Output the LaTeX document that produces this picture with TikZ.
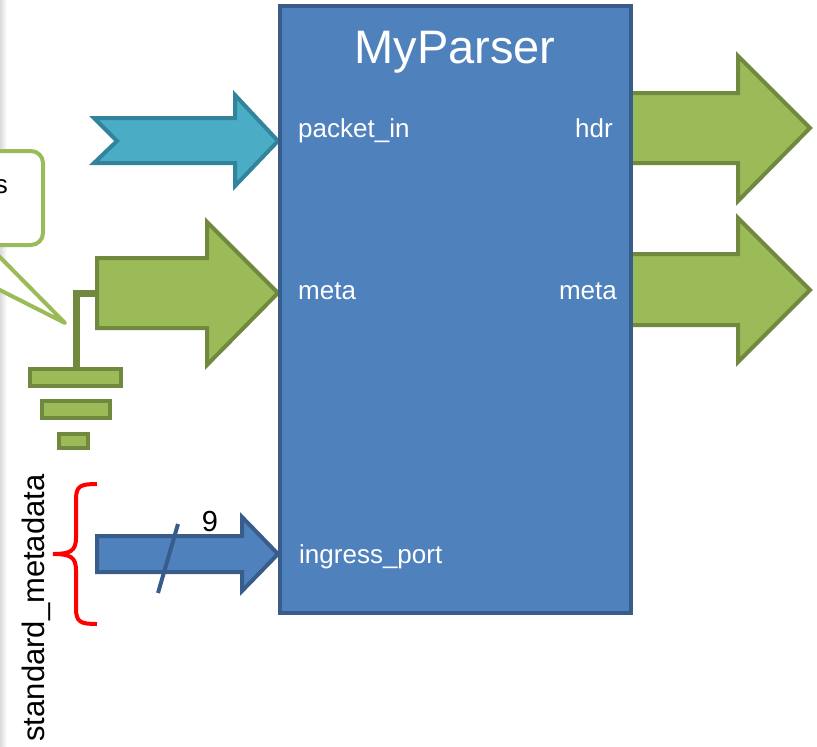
\documentclass[tikz,border=0pt]{standalone}
\usepackage{fontspec}
\setmainfont{Liberation Sans}
\usepackage{tikz}
\usepackage{xcolor}
\definecolor{blockcolor}{HTML}{4F81BD}
\definecolor{blockline}{HTML}{385D8A}
\definecolor{packetcolor}{HTML}{4BACC6}
\definecolor{packetline}{HTML}{31849B}
\definecolor{metacolor}{HTML}{9BBB59}
\definecolor{metaline}{HTML}{71893F}
\usetikzlibrary{
  shapes.misc,
}

\begin{document}
\begin{tikzpicture}[x=1pt, y=-1pt]
	\tikzstyle{every node}=[font=\fontsize{26}{30}\selectfont, inner sep=0pt]
	\tikzstyle{port}=[text=white]
	\tikzstyle{packetarrow}=[fill=packetcolor, draw=packetline, line width=4pt]
	\tikzstyle{metaarrow}=[fill=metacolor, draw=metaline, line width=4pt]
	\tikzstyle{portarrow}=[fill=blockcolor, draw=blockline, line width=4pt]
	\useasboundingbox (0,0) rectangle (817,747);
	\clip (0,0) rectangle (817,747);
	% page edge
	\shade [left color=black!14, right color=white] (0,0) rectangle (7,747);
	% callout
	\draw [metacolor, line width=4pt, line join=round, fill=white] (-200,151) [rounded corners=12pt] -- (43,151) -- (43,245) -- (-12,245) [sharp corners] -- (65,323) -- (-89,245) -- (-200,245);
	\node (note) [anchor=base east] at (8,193) {s};
	% ground
	\draw [metaline, line width=7pt] (97,293) -- (76,293) -- (76,370);
	\draw [metaarrow] (30,369) rectangle (121,386);
	\draw [metaarrow] (42,401) rectangle (110,418);
	\draw [metaarrow] (59,434) rectangle (88,448);
	% input arrows
	\draw [packetarrow] (94,118) -- (235,118) -- (235,95) -- (278,141) -- (235,186) -- (235,163) -- (94,163) -- (117,141) -- cycle;
	\draw [metaarrow] (97,258) -- (207,258) -- (207,222) -- (278,293) -- (207,365) -- (207,328) -- (97,328) -- cycle;
	\draw [portarrow] (97,536) -- (242,536) -- (242,517) -- (278,554) -- (242,591) -- (242,572) -- (97,572) -- cycle;
	% output arrows
	\draw [metaarrow] (630,93) -- (738,93) -- (738,56) -- (810,128) -- (738,201) -- (738,163) -- (630,163);
	\draw [metaarrow] (630,254) -- (738,254) -- (738,218) -- (810,290) -- (738,362) -- (738,325) -- (630,325);
	% parser block
	\node (parser) [draw=blockline, fill=blockcolor, line width=4pt, minimum width=351pt, minimum height=607pt] at (455.5,309.5) {};
	\node (title) [port, anchor=base, font=\fontsize{47}{52}\selectfont] at (455,63) {MyParser};
	\node (pktin) [port, anchor=base west] at (298,137) {packet\_in};
	\node (hdr) [port, anchor=base east] at (613,137) {hdr};
	\node (metain) [port, anchor=base west] at (298,299) {meta};
	\node (metaout) [port, anchor=base east] at (617,299) {meta};
	\node (ingress) [port, anchor=base west] at (299,563) {ingress\_port};
	% bus width
	\draw [blockline, line width=4pt] (158,593) -- (178,524);
	\node (width) [anchor=base, font=\fontsize{29}{32}\selectfont] at (210,531) {9};
	% standard metadata brace
	\draw [red, line width=4pt] (97,484) .. controls (80,484) and (76,486) .. (76,500) -- (76,538) .. controls (76,551) and (70,554) .. (53,554) .. controls (70,554) and (76,557) .. (76,570) -- (76,608) .. controls (76,622) and (80,624) .. (97,624);
	\node (stdmeta) [anchor=base, rotate=90, font=\fontsize{31}{34}\selectfont] at (44,608) {standard\_metadata};
\end{tikzpicture}
\end{document}
